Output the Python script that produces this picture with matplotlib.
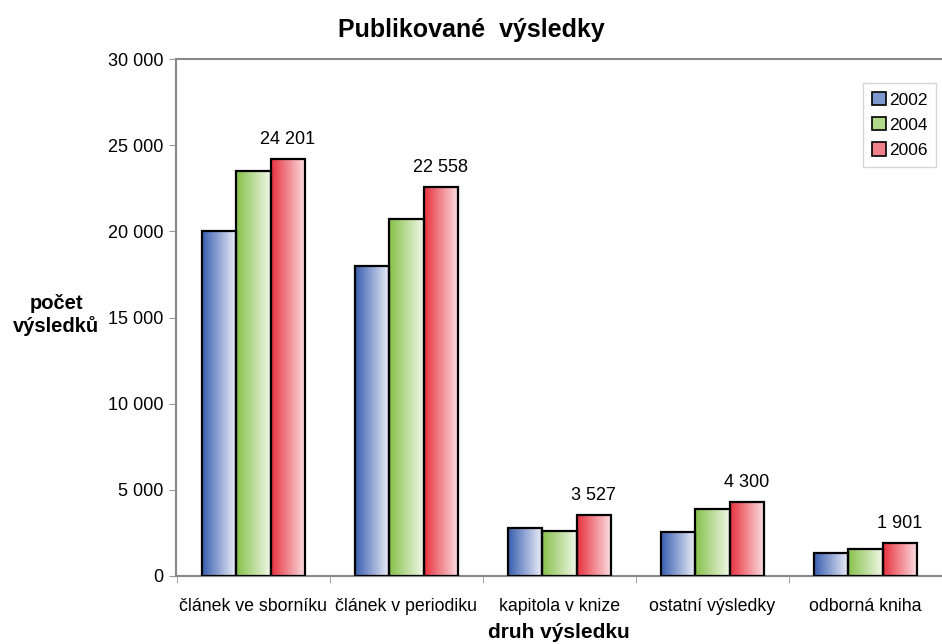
import matplotlib
matplotlib.use("Agg")
import matplotlib.pyplot as plt
import numpy as np
from matplotlib.colors import LinearSegmentedColormap
from matplotlib.patches import Patch
from matplotlib.ticker import FuncFormatter

plt.rcParams['font.family'] = ['Liberation Sans', 'DejaVu Sans']

# data
categories = ["článek ve sborníku", "článek v periodiku", "kapitola v knize",
              "ostatní výsledky", "odborná kniha"]
years = ["2002", "2004", "2006"]
v2002 = [20000, 18000, 2770, 2570, 1350]
v2004 = [23500, 20700, 2630, 3890, 1550]
v2006 = [24201, 22558, 3527, 4300, 1901]

# gradient colours: dark left edge -> pale right edge
grad_colors = [("#3a5fb0", "#eef0f8"), ("#86c14a", "#f1f7e8"), ("#e8323f", "#fbe1e3")]
legend_colors = ["#7f97cf", "#b2d88a", "#f0808a"]

fig = plt.figure(figsize=(9.42, 6.44), dpi=100)
ax = fig.add_axes([176 / 942, 68 / 644, 766 / 942, 517 / 644])

x = np.arange(len(categories))
w = 0.224
grad = np.linspace(0, 1, 64).reshape(1, -1)

for i, vals in enumerate([v2002, v2004, v2006]):
    cmap = LinearSegmentedColormap.from_list("g%d" % i, grad_colors[i])
    for xi, v in zip(x, vals):
        x0 = xi + (i - 1) * w - w / 2
        ax.imshow(grad, extent=[x0, x0 + w, 0, v], aspect='auto', cmap=cmap,
                  origin='lower', zorder=2)
        ax.bar(xi + (i - 1) * w, v, width=w, facecolor='none', edgecolor='black',
               linewidth=1.6, zorder=3)

# value labels on 2006 bars
for xi, v in zip(x, v2006):
    ax.annotate("{:,}".format(v).replace(",", " "), (xi + w, v), xytext=(0, 8),
                textcoords='offset points', ha='center', va='bottom', fontsize=13)

ax.set_xlim(-0.506, 4.46)
ax.set_ylim(0, 30000)
ax.set_yticks(np.arange(0, 30001, 5000))
ax.yaxis.set_major_formatter(FuncFormatter(lambda v, p: "{:,}".format(int(v)).replace(",", " ")))
ax.set_xticks(x)
ax.set_xticklabels(categories, fontsize=12.8)
ax.set_xticks(np.arange(-0.5, 5, 1), minor=True)
ax.tick_params(axis='x', which='major', length=0, pad=16)
ax.tick_params(axis='x', which='minor', length=5, color='#999999')
ax.tick_params(axis='y', length=5, color='#999999', labelsize=13, pad=4)

for s in ['left', 'bottom', 'top']:
    ax.spines[s].set_color('#888888')
    ax.spines[s].set_linewidth(1.5)
ax.spines['right'].set_visible(False)

fig.text(0.5 + 88 / 942, 1 - 632 / 644, "druh výsledku", fontsize=15, fontweight='bold',
         ha='center', va='center')
fig.text(56 / 942, 1 - 315 / 644, "počet\nvýsledků", fontsize=14.5, fontweight='bold',
         ha='center', va='center')
fig.suptitle("Publikované  výsledky", fontsize=18, fontweight='bold', y=1 - 30 / 644,
             va='center')

handles = [Patch(facecolor=c, edgecolor='black', linewidth=1.2) for c in legend_colors]
leg = ax.legend(handles, years, loc='upper right', bbox_to_anchor=(1.004, 0.97),
                fontsize=12.5, fancybox=False, edgecolor='#cccccc', handlelength=0.8,
                handleheight=0.8, handletextpad=0.2, labelspacing=0.55, borderpad=0.5)

fig.savefig("out.png", dpi=100)
